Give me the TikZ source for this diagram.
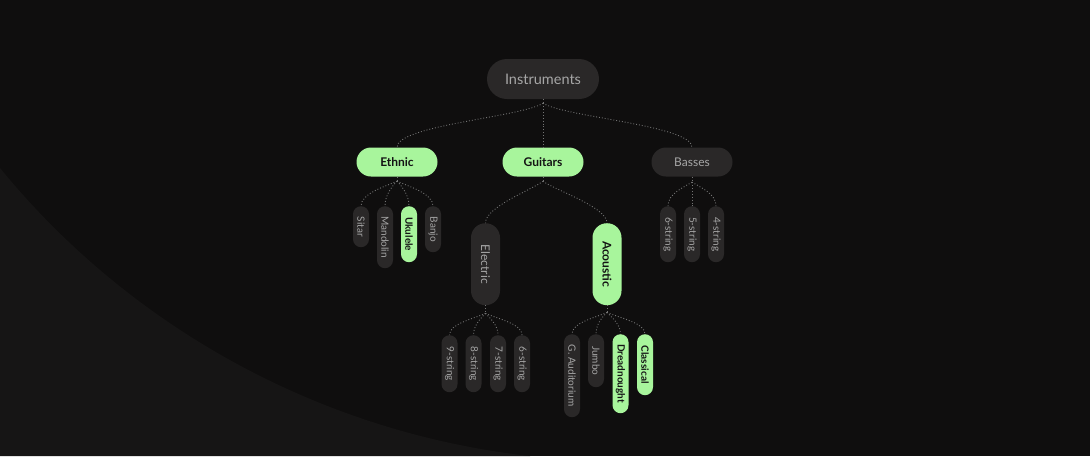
\documentclass[tikz,border=0pt]{standalone}
\usepackage{fontspec}
\setmainfont{Lato}
\usepackage{tikz}
\usetikzlibrary{positioning}

\definecolor{bgdark}{HTML}{0F0E0E}
\definecolor{bglight}{HTML}{161515}
\definecolor{pilldark}{HTML}{2A2828}
\definecolor{pillgreen}{HTML}{A8F59C}
\definecolor{textgrey}{HTML}{A6A6A6}
\definecolor{textdark}{HTML}{141414}
\definecolor{linkgrey}{HTML}{747474}

\begin{document}
\begin{tikzpicture}
[x=1pt,y=-1pt,
 pill/.style={shape=rectangle,fill=pilldark,text=textgrey,inner sep=0pt},
 root/.style={pill,minimum width=112pt,minimum height=40pt,rounded corners=20pt,
   font=\fontsize{14.5}{16}\selectfont},
 group/.style={pill,minimum width=81pt,minimum height=29pt,rounded corners=14.5pt,
   font=\fontsize{12}{14}\selectfont},
 kind/.style={pill,rotate=-90,anchor=west,minimum width=82pt,minimum height=29pt,
   rounded corners=14.5pt,font=\fontsize{12}{14}\selectfont},
 leaf/.style={pill,rotate=-90,anchor=west,minimum height=16pt,rounded corners=8pt,
   font=\fontsize{10}{12}\selectfont},
 selnode/.style={fill=pillgreen,text=textdark,execute at begin node=\bfseries},
 link/.style={draw=linkgrey,line width=0.9pt,dash pattern=on 0.9pt off 2pt}]

\fill[bgdark] (0,0) rectangle (1090,456);
\fill[bglight] (0,168) .. controls (131.5,329) and (323,433) .. (530,456)
	-- (0,456) -- cycle;
\useasboundingbox (0,0) rectangle (1090,456);

\node (instruments) [root] at (543,79) {Instruments};

\node (ethnic) [group,selnode] at (397,162) {Ethnic};
\node (guitars) [group,selnode] at (543,162) {Guitars};
\node (basses) [group] at (692,162) {Basses};

\node (sitar) [leaf,minimum width=41pt] at (361,206) {Sitar};
\node (mandolin) [leaf,minimum width=62pt] at (385,206) {Mandolin};
\node (ukulele) [leaf,selnode,minimum width=56pt] at (409,206) {Ukulele};
\node (banjo) [leaf,minimum width=46pt] at (433,206) {Banjo};

\node (electric) [kind] at (485.5,223) {Electric};
\node (acoustic) [kind,selnode] at (607,223) {Acoustic};

\node (b6) [leaf,minimum width=56pt] at (668,206) {6-string};
\node (b5) [leaf,minimum width=56pt] at (692,206) {5-string};
\node (b4) [leaf,minimum width=56pt] at (716,206) {4-string};

\node (e9) [leaf,minimum width=57pt] at (449.5,335) {9-string};
\node (e8) [leaf,minimum width=57pt] at (473.5,335) {8-string};
\node (e7) [leaf,minimum width=57pt] at (498,335) {7-string};
\node (e6) [leaf,minimum width=57pt] at (522,335) {6-string};

\node (auditorium) [leaf,minimum width=83pt] at (572,334) {G. Auditorium};
\node (jumbo) [leaf,minimum width=53pt] at (596,334) {Jumbo};
\node (dreadnought) [leaf,selnode,minimum width=79pt] at (620.5,334) {Dreadnought};
\node (classical) [leaf,selnode,minimum width=61pt] at (645,334) {Classical};

% forks under each parent
\coordinate [below=4pt of instruments] (instrumentsfork);
\coordinate [below=4.5pt of ethnic] (ethnicfork);
\coordinate [below=4.5pt of guitars] (guitarsfork);
\coordinate [below=5.5pt of basses] (bassesfork);
\coordinate [below=8pt of electric.east] (electricfork);
\coordinate [below=7pt of acoustic.east] (acousticfork);

\draw [link] (instruments) -- (instrumentsfork);
\draw [link] (instrumentsfork) .. controls +(-22,14) and +(0,-22) .. (ethnic.north);
\draw [link] (instrumentsfork) -- (guitars);
\draw [link] (instrumentsfork) .. controls +(22,14) and +(0,-22) .. (basses.north);

\draw [link] (ethnic) -- (ethnicfork);
\draw [link] (ethnicfork) .. controls +(-14,6) and +(0,-12) .. (sitar.west);
\draw [link] (ethnicfork) .. controls +(-6,6) and +(0,-10) .. (mandolin.west);
\draw [link] (ethnicfork) .. controls +(6,6) and +(0,-10) .. (ukulele.west);
\draw [link] (ethnicfork) .. controls +(14,6) and +(0,-12) .. (banjo.west);

\draw [link] (guitars) -- (guitarsfork);
\draw [link] (guitarsfork) .. controls +(-12,9) and +(0,-16) .. (electric.west);
\draw [link] (guitarsfork) .. controls +(12,9) and +(0,-16) .. (acoustic.west);

\draw [link] (basses) -- (bassesfork);
\draw [link] (bassesfork) .. controls +(-10,6) and +(0,-12) .. (b6.west);
\draw [link] (bassesfork) -- (b5.west);
\draw [link] (bassesfork) .. controls +(10,6) and +(0,-12) .. (b4.west);

\draw [link] (electric.east) -- (electricfork);
\draw [link] (electricfork) .. controls +(-14,6) and +(0,-11) .. (e9.west);
\draw [link] (electricfork) .. controls +(-6,6) and +(0,-9) .. (e8.west);
\draw [link] (electricfork) .. controls +(6,6) and +(0,-9) .. (e7.west);
\draw [link] (electricfork) .. controls +(14,6) and +(0,-11) .. (e6.west);

\draw [link] (acoustic.east) -- (acousticfork);
\draw [link] (acousticfork) .. controls +(-14,6) and +(0,-11) .. (auditorium.west);
\draw [link] (acousticfork) .. controls +(-6,6) and +(0,-9) .. (jumbo.west);
\draw [link] (acousticfork) .. controls +(6,6) and +(0,-9) .. (dreadnought.west);
\draw [link] (acousticfork) .. controls +(14,6) and +(0,-11) .. (classical.west);
\end{tikzpicture}
\end{document}
